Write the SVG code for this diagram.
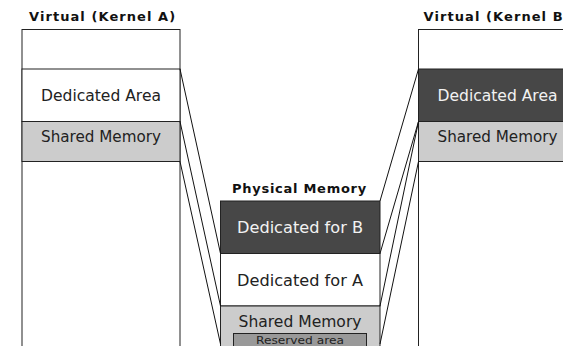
<svg xmlns="http://www.w3.org/2000/svg" width="563" height="346" viewBox="0 0 563 346">
<style>
.box{stroke:#222;stroke-width:1}
.w{fill:#fff}
.d{fill:#474747}
.g{fill:#cccccc}
.r{fill:#999999}
.t{font-family:"DejaVu Sans",sans-serif;font-size:15px;text-anchor:middle}
.tt{font-family:"DejaVu Sans",sans-serif;font-size:13px;font-weight:bold;letter-spacing:0.8px;fill:#111}
.dk{fill:#222}
.lt{fill:#f2f2f2}
.sm{font-family:"DejaVu Sans",sans-serif;font-size:11px;text-anchor:middle;fill:#222}
.c{stroke:#111;stroke-width:1;fill:none}
</style>
<rect width="563" height="346" fill="#fff"/>
<g id="kernelA">
<text class="tt" x="29" y="21" textLength="147" lengthAdjust="spacing">Virtual (Kernel A)</text>
<rect class="box w" x="22" y="29.5" width="158" height="330"/>
<g id="kernelA-dedicated"><rect class="box w" x="22" y="69" width="158" height="52.5"/><text class="t dk" x="101" y="101" textLength="120" lengthAdjust="spacingAndGlyphs">Dedicated Area</text></g>
<g id="kernelA-shared"><rect class="box g" x="22" y="121.5" width="158" height="40"/><text class="t dk" x="101" y="142" textLength="120" lengthAdjust="spacingAndGlyphs">Shared Memory</text></g>
</g>
<g id="kernelB">
<text class="tt" x="423.5" y="21" textLength="147" lengthAdjust="spacing">Virtual (Kernel B)</text>
<rect class="box w" x="418.5" y="29.5" width="158" height="330"/>
<g id="kernelB-dedicated"><rect class="box d" x="418.5" y="69" width="158" height="52.5"/><text class="t lt" x="497.5" y="101" textLength="120" lengthAdjust="spacingAndGlyphs">Dedicated Area</text></g>
<g id="kernelB-shared"><rect class="box g" x="418.5" y="121.5" width="158" height="40"/><text class="t dk" x="497.5" y="142" textLength="120" lengthAdjust="spacingAndGlyphs">Shared Memory</text></g>
</g>
<g id="physical">
<text class="tt" x="232" y="193" textLength="135" lengthAdjust="spacing">Physical Memory</text>
<g id="phys-b"><rect class="box d" x="220.5" y="201" width="159.5" height="52.5"/><text class="t lt" x="300" y="233" textLength="126" lengthAdjust="spacingAndGlyphs">Dedicated for B</text></g>
<g id="phys-a"><rect class="box w" x="220.5" y="253.5" width="159.5" height="52.5"/><text class="t dk" x="300" y="286" textLength="126" lengthAdjust="spacingAndGlyphs">Dedicated for A</text></g>
<g id="phys-shared"><rect class="box g" x="220.5" y="306" width="159.5" height="60"/><text class="t dk" x="300" y="327" textLength="123" lengthAdjust="spacingAndGlyphs">Shared Memory</text>
<g id="reserved"><rect class="box r" x="233.5" y="333.5" width="133" height="20"/><text class="sm" x="300" y="344" textLength="88" lengthAdjust="spacingAndGlyphs">Reserved area</text></g></g>
</g>
<g id="connectors">
<line class="c" x1="180" y1="69" x2="220.5" y2="253.5"/>
<line class="c" x1="180" y1="121.5" x2="220.5" y2="306"/>
<line class="c" x1="180" y1="161.5" x2="220.5" y2="344"/>
<line class="c" x1="418.5" y1="69" x2="380" y2="201"/>
<line class="c" x1="418.5" y1="121.5" x2="380" y2="253.5"/>
<line class="c" x1="418.5" y1="121.5" x2="380" y2="306"/>
<line class="c" x1="418.5" y1="161.5" x2="380" y2="344"/>
</g>
</svg>
